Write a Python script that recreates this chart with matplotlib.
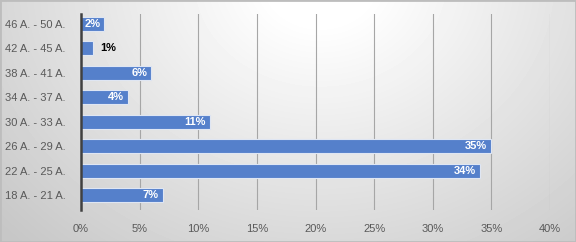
import matplotlib.pyplot as plt
import numpy as np

categories = ['18 A. - 21 A.', '22 A. - 25 A.', '26 A. - 29 A.', '30 A. - 33 A.',
              '34 A. - 37 A.', '38 A. - 41 A.', '42 A. - 45 A.', '46 A. - 50 A.']
values = [7, 34, 35, 11, 4, 6, 1, 2]
labels = ['7%', '34%', '35%', '11%', '4%', '6%', '1%', '2%']
ticks = [0, 5, 10, 15, 20, 25, 30, 35, 40]

plt.rcParams['font.family'] = ['Liberation Sans', 'DejaVu Sans']

fig = plt.figure(figsize=(5.76, 2.42), dpi=100)

# background gradient, light at top centre, grey towards the edges
bg = fig.add_axes([0, 0, 1, 1], zorder=-10)
yy, xx = np.mgrid[0:242, 0:576]
d = np.sqrt(((xx - 320) / 380.0) ** 2 + ((yy + 20) / 320.0) ** 2)
shade = np.clip(1.03 - 0.22 * d, 0.78, 1.0)
bg.imshow(shade, cmap='gray', vmin=0, vmax=1, aspect='auto', extent=[0, 1, 0, 1])
bg.plot([0, 1, 1, 0, 0], [0, 0, 1, 1, 0], color='#bdbdbd', lw=2, transform=bg.transAxes)
bg.set_xlim(0, 1)
bg.set_ylim(0, 1)
bg.axis('off')

ax = fig.add_axes([81 / 576, 32 / 242, (550 - 81) / 576, (228 - 32) / 242])
ax.patch.set_alpha(0)
y = np.arange(len(categories))
ax.barh(y, values, height=0.57, color='#5580cb', edgecolor='#dfe6f3', linewidth=0.8, zorder=3)

for i, (v, lab) in enumerate(zip(values, labels)):
    if v >= 2:
        ax.text(v - 0.35, i, lab, ha='right', va='center', color='white',
                fontsize=8, fontweight='bold', zorder=4)
    else:
        ax.text(v + 0.6, i, lab, ha='left', va='center', color='black',
                fontsize=8, fontweight='bold', zorder=4)

ax.set_xlim(0, 40)
ax.set_ylim(-0.6, 7.4)
ax.set_xticks(ticks)
ax.set_xticklabels([f'{t}%' for t in ticks])
ax.set_yticks(y)
ax.set_yticklabels(categories)
ax.tick_params(axis='both', length=0, labelsize=8, colors='#595959')
ax.tick_params(axis='x', pad=10)
ax.tick_params(axis='y', pad=11)
ax.grid(axis='x', color='#a6a6a6', linewidth=0.8, zorder=0)
for s in ['top', 'right', 'bottom']:
    ax.spines[s].set_visible(False)
ax.spines['left'].set_color('#404040')
ax.spines['left'].set_linewidth(1.8)
ax.spines['left'].set_zorder(5)

fig.savefig('out.png', dpi=100)
